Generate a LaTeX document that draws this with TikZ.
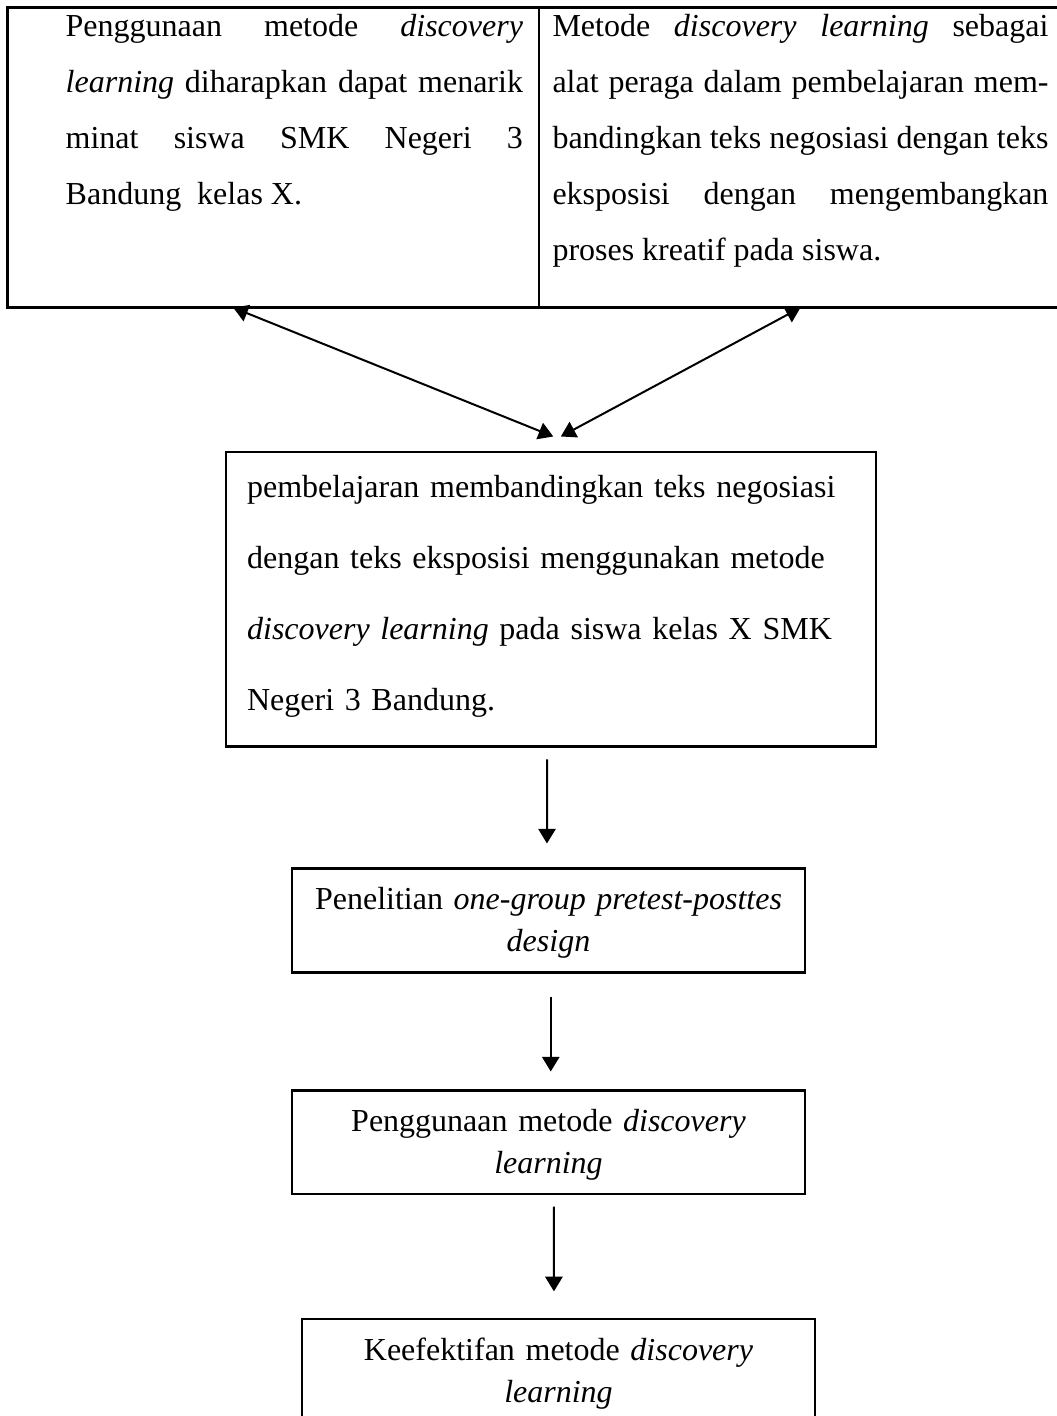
\documentclass[tikz,border=0pt]{standalone}
\usepackage{fontspec}
\setmainfont{Liberation Serif}
\usepackage{tikz}
\usetikzlibrary{arrows.meta, positioning, calc}
\tolerance=10000
\emergencystretch=2em

\begin{document}
\begin{tikzpicture}[
  sel/.style={
    rectangle, draw, line width=1.1pt, outer sep=0pt,
    inner ysep=0pt, align=justify,
    font=\fontsize{12}{21}\selectfont,
    text height=0.38cm, text depth=3.57cm
  },
  kotakbesar/.style={
    rectangle, draw, line width=0.8pt, outer sep=0pt,
    inner xsep=0.28cm, inner ysep=0pt, align=left,
    text width=8.01cm, font=\fontsize{12}{26.6}\selectfont,
    text height=0.606cm, text depth=3.28cm
  },
  kotak/.style={
    rectangle, draw, line width=0.8pt, outer sep=0pt,
    inner xsep=0.13cm, inner ysep=0pt, align=center,
    text width=6.5cm, font=\fontsize{12}{15.75}\selectfont,
    text height=0.54cm, text depth=0.83cm
  },
  panah/.style={-{Triangle[length=5.5pt,width=6.5pt]}, line width=0.75pt},
  panahdua/.style={{Triangle[length=5.5pt,width=6.5pt]}-{Triangle[length=5.5pt,width=6.5pt]}, line width=0.75pt}
]
\useasboundingbox (0,0) rectangle (13.931,-18.663);

% ── KOTAK ────────────────────────────────────────────────────

\node[sel, anchor=north west, inner xsep=0.211cm, text width=6.577cm] (minat) at (0.105,-0.105) {%
  \hspace*{0.55cm}\begin{minipage}[t]{6.027cm}
    Penggunaan metode \emph{discovery}\linebreak
    \emph{learning} diharapkan dapat menarik\linebreak
    minat siswa SMK Negeri 3\linebreak
    Bandung\ \ kelas X.
  \end{minipage}
};

\node[sel, right=0pt of minat, inner xsep=0.178cm, text width=6.537cm] (alat) {%
  Metode \emph{discovery learning} sebagai\linebreak
  alat peraga dalam pembelajaran mem-\linebreak
  bandingkan teks negosiasi dengan teks\linebreak
  eksposisi dengan mengembangkan\linebreak
  proses kreatif pada siswa.
};

\node[kotakbesar, below=1.898cm of minat.south east, xshift=0.158cm] (pembelajaran) {%
  pembelajaran membandingkan teks negosiasi\\
  dengan teks eksposisi menggunakan metode\\
  \emph{discovery learning} pada siswa kelas X SMK\\
  Negeri 3 Bandung.
};

\node[kotak, below=1.608cm of pembelajaran, xshift=-0.033cm] (penelitian) {%
  Penelitian \emph{one-group pretest-posttes}\\
  \emph{design}
};

\node[kotak, below=1.555cm of penelitian] (penggunaan) {%
  Penggunaan metode \emph{discovery}\\
  \emph{learning}
};

\node[kotak, below=1.648cm of penggunaan, xshift=0.132cm] (keefektifan) {%
  Keefektifan metode \emph{discovery}\\
  \emph{learning}
};

% ── PANAH ────────────────────────────────────────────────────

% minat <-> pembelajaran
\draw[panahdua] ([xshift=-0.53cm]minat.south) -- ([xshift=0.03cm,yshift=0.2cm]pembelajaran.north);
% alat <-> pembelajaran
\draw[panahdua] (alat.south) -- ([xshift=0.13cm,yshift=0.2cm]pembelajaran.north);
% pembelajaran -> penelitian
\draw[panah] ([xshift=-0.05cm,yshift=-0.17cm]pembelajaran.south) -- ([xshift=-0.02cm,yshift=0.33cm]penelitian.north);
% penelitian -> penggunaan
\draw[panah] ([xshift=0.03cm,yshift=-0.32cm]penelitian.south) -- ([xshift=0.03cm,yshift=0.25cm]penggunaan.north);
% penggunaan -> keefektifan
\draw[panah] ([xshift=0.07cm,yshift=-0.16cm]penggunaan.south) -- ([xshift=-0.06cm,yshift=0.37cm]keefektifan.north);

\end{tikzpicture}
\end{document}
